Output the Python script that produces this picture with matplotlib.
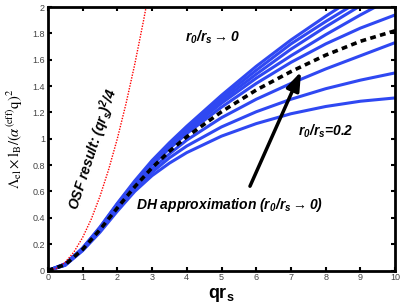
import matplotlib
matplotlib.use("Agg")
import matplotlib.pyplot as plt

plt.rcParams['font.family'] = ['Liberation Sans', 'DejaVu Sans']
plt.rcParams['mathtext.fontset'] = 'custom'
plt.rcParams['mathtext.it'] = 'Liberation Sans:bold:italic'
plt.rcParams['mathtext.rm'] = 'Liberation Sans:bold:italic'
plt.rcParams['mathtext.bf'] = 'Liberation Sans:bold'

# Data
qrs = [0, 0.5, 1, 1.5, 2, 2.5, 3, 3.5, 4, 5, 6, 7, 8, 9, 10]

# blue curves, from r0/rs -> 0 (top) to r0/rs = 0.2 (bottom)
blue_a = [0, .05, .17, .33, .51, .68, .835, .97, 1.095, 1.33, 1.55, 1.75, 1.93, 2.10, 2.26]
blue_b = [0, .05, .17, .325, .505, .67, .825, .96, 1.08, 1.31, 1.52, 1.72, 1.89, 2.05, 2.20]
blue_c = [0, .05, .165, .32, .50, .665, .82, .95, 1.07, 1.29, 1.49, 1.68, 1.85, 2.01, 2.16]
blue_d = [0, .045, .165, .315, .49, .655, .81, .94, 1.055, 1.27, 1.46, 1.63, 1.79, 1.94, 2.08]
blue_e = [0, .045, .16, .31, .48, .645, .80, .925, 1.04, 1.24, 1.42, 1.58, 1.72, 1.84, 1.94]
blue_f = [0, .045, .16, .30, .47, .625, .77, .885, .99, 1.16, 1.30, 1.42, 1.53, 1.63, 1.73]
blue_g = [0, .04, .155, .30, .46, .61, .745, .855, .945, 1.09, 1.205, 1.30, 1.38, 1.445, 1.50]
blue_h = [0, .04, .15, .29, .45, .60, .72, .815, .895, 1.02, 1.115, 1.19, 1.245, 1.285, 1.31]
blue_curves = [blue_a, blue_b, blue_c, blue_d, blue_e, blue_f, blue_g, blue_h]

# DH approximation (dashed)
dh = [0, .045, .16, .31, .475, .635, .78, .905, 1.015, 1.205, 1.37, 1.51, 1.635, 1.74, 1.82]

# OSF result (red dotted)
osf_x = [0, 0.25, 0.5, 0.75, 1, 1.25, 1.5, 1.75, 2, 2.25, 2.5, 2.75, 2.9]
osf_y = [0, 0.016, 0.0625, 0.14, 0.25, 0.39, 0.5625, 0.766, 1.0, 1.266, 1.5625, 1.89, 2.10]

fig = plt.figure(figsize=(4.02, 3.05), dpi=100)
ax = fig.add_axes([0.119, 0.113, 0.864, 0.864])

for ys in blue_curves:
    ax.plot(qrs, ys, color='#2f48f2', lw=2.2, solid_capstyle='butt')
ax.plot(osf_x, osf_y, color='red', lw=1.0, ls=(0, (1, 1.0)))
ax.plot(qrs, dh, color='black', lw=2.6, ls=(0, (1.6, 1.2)))

ax.set_xlim(0, 10)
ax.set_ylim(0, 2)
ax.set_xticks(range(0, 11))
yt = [0, 0.2, 0.4, 0.6, 0.8, 1, 1.2, 1.4, 1.6, 1.8, 2]
ax.set_yticks(yt)
ax.set_yticklabels(['0', '0.2', '0.4', '0.6', '0.8', '1', '1.2', '1.4', '1.6', '1.8', '2'])
ax.tick_params(direction='in', length=3, width=1.5, labelsize=6.5,
               labelcolor='#444444', top=True, right=True, pad=2)
for s in ax.spines.values():
    s.set_linewidth(2)

ax.set_xlabel(r'$\mathbf{qr_s}$', fontsize=13, labelpad=2)
ax.set_ylabel(r'$\Lambda_{\rm el}\times {\rm l}_{\rm B}/(\alpha^{\rm (eff)}{\rm q})^2$',
              fontsize=10.5, math_fontfamily='stix', labelpad=5)

ax.text(1.3, 0.92, r'OSF result: $(qr_s)^2/4$', rotation=72, fontsize=10,
        fontweight='bold', style='italic', ha='center', va='center')
ax.text(3.95, 1.77, r'$r_0/r_s\rightarrow 0$', fontsize=10, ha='left', va='center')
ax.text(7.2, 1.06, r'$r_0/r_s$=0.2', fontsize=10, fontweight='bold', style='italic',
        ha='left', va='center')
ax.text(2.55, 0.50, r'DH approximation ($r_0/r_s\rightarrow 0$)', fontsize=10,
        fontweight='bold', style='italic', ha='left', va='center')

ax.annotate('', xy=(7.29, 1.51), xytext=(5.82, 0.64),
            arrowprops=dict(arrowstyle='-|>,head_length=0.7,head_width=0.25',
                            lw=2.5, color='black', mutation_scale=16,
                            shrinkA=0, shrinkB=0))

fig.savefig('out.png', dpi=100)
